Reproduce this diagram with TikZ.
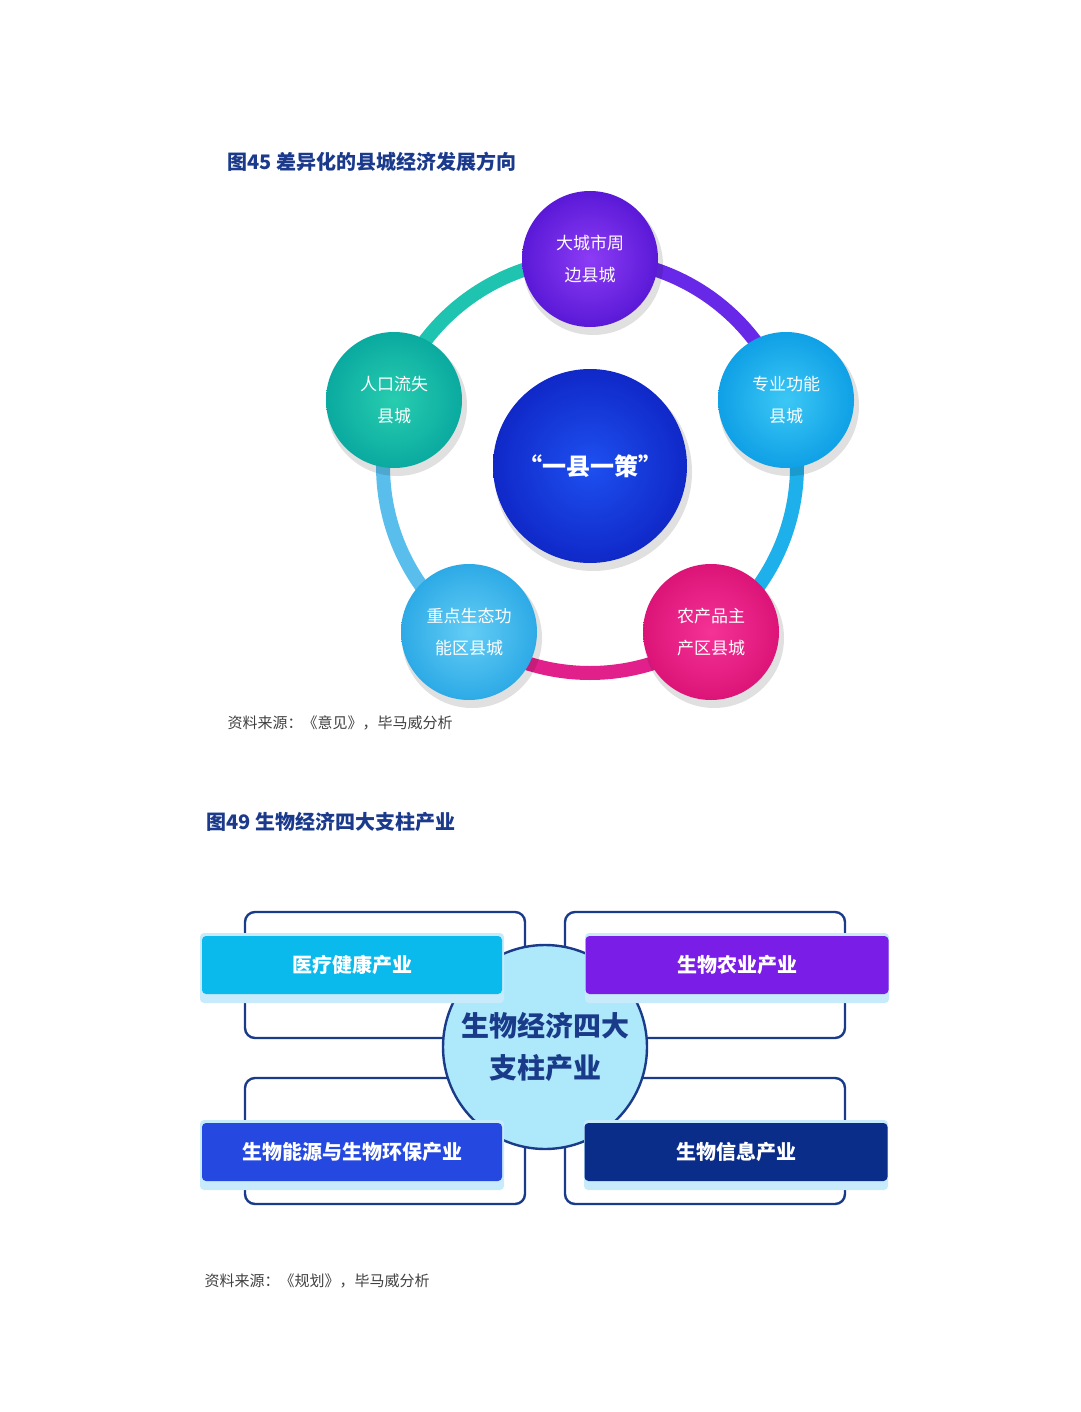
\documentclass[tikz,border=0pt]{standalone}
\usepackage{fontspec}
\setmainfont{Noto Sans CJK SC}
\usetikzlibrary{calc,shapes.geometric}
\definecolor{ttl}{HTML}{1B3A8C}
\definecolor{dk}{HTML}{1A3A8A}
\definecolor{sgA}{HTML}{1EC4B0}
\definecolor{sgB}{HTML}{6828E8}
\definecolor{sgC}{HTML}{1EB0EA}
\definecolor{sgD}{HTML}{E2208C}
\definecolor{sgE}{HTML}{5ABEEC}
\definecolor{ctrI}{HTML}{1E50F0}
\definecolor{ctrO}{HTML}{1028C8}
\definecolor{n1I}{HTML}{8C3CF5}
\definecolor{n1O}{HTML}{5A19D7}
\definecolor{n2I}{HTML}{3CC8F5}
\definecolor{n2O}{HTML}{0FA0E6}
\definecolor{n3I}{HTML}{F53296}
\definecolor{n3O}{HTML}{DC1478}
\definecolor{n4I}{HTML}{64CDF5}
\definecolor{n4O}{HTML}{2DAAE6}
\definecolor{n5I}{HTML}{28CDAF}
\definecolor{n5O}{HTML}{0AAAA0}
\definecolor{ellf}{HTML}{AEE8FB}
\definecolor{glow}{HTML}{C8EBFC}
\definecolor{bA}{HTML}{0ABAEC}
\definecolor{bB}{HTML}{7A1DE6}
\definecolor{bC}{HTML}{2448E0}
\definecolor{bD}{HTML}{0A2D8A}
\begin{document}
\begin{tikzpicture}[x=1pt,y=1pt,
  ttltxt/.style={anchor=west,text=ttl,font=\fontsize{20}{24}\selectfont\bfseries},
  srctxt/.style={anchor=west,text=black!75,font=\fontsize{15}{18}\selectfont},
  sat/.style={circle,minimum size=136pt,inner sep=0pt,text=white,align=center,font=\fontsize{17}{32}\selectfont},
  outl/.style={draw=dk,line width=2.4pt,rounded corners=10pt},
  bar/.style={rounded corners=4pt,minimum width=300pt,minimum height=58pt,text=white,font=\fontsize{20}{24}\selectfont\bfseries},
  seg/.style={line width=14pt}]
\useasboundingbox (0,0) rectangle (1080,-1412);
\node[ttltxt] (t1) at (224,-162) {图45\ 差异化的县城经济发展方向};
\coordinate (c) at (590,-466);
% ring
\draw[seg,sgA] ($(c)+(90:207)$) arc (90:161.4:207);
\draw[seg,sgB] ($(c)+(18.6:207)$) arc (18.6:90:207);
\draw[seg,sgC] ($(c)+(-54:207)$) arc (-54:18.6:207);
\draw[seg,sgD] ($(c)+(-126:207)$) arc (-126:-54:207);
\draw[seg,sgE] ($(c)+(161.4:207)$) arc (161.4:234:207);
% shadows
\foreach \p in {(590,-259),(786,-400),(711,-632),(469,-632),(394,-400)}
  \fill[black,opacity=0.12] \p ++(3,-6) circle (70);
\fill[black,opacity=0.12] (c) ++(3,-6) circle (99);
\node[circle,minimum size=194pt,inner sep=0pt,inner color=ctrI,outer color=ctrO,text=white,font=\fontsize{24}{28}\selectfont\bfseries] (ctr) at (c) {“一县一策”};
\node[sat,inner color=n1I,outer color=n1O] (n1) at (590,-259) {大城市周\\边县城};
\node[sat,inner color=n2I,outer color=n2O] (n2) at (786,-400) {专业功能\\县城};
\node[sat,inner color=n3I,outer color=n3O] (n3) at (711,-632) {农产品主\\产区县城};
\node[sat,inner color=n4I,outer color=n4O] (n4) at (469,-632) {重点生态功\\能区县城};
\node[sat,inner color=n5I,outer color=n5O] (n5) at (394,-400) {人口流失\\县城};
\node[srctxt] (s1) at (224,-723) {资料来源：《意见》，毕马威分析};
% bottom
\node[ttltxt] (t2) at (203,-822) {图49\ 生物经济四大支柱产业};
\draw[outl] (245,-912) rectangle (525,-1038);
\draw[outl] (565,-912) rectangle (845,-1038);
\draw[outl] (245,-1078) rectangle (525,-1204);
\draw[outl] (565,-1078) rectangle (845,-1204);
\node[ellipse,draw=dk,line width=2.4pt,fill=ellf,minimum width=204pt,minimum height=204pt,inner sep=0pt] (e) at (545,-1047) {};
\foreach \x/\y in {352/-968,737/-968,352/-1155,736/-1155}
  \fill[glow,rounded corners=4pt] (\x-152,\y-35) rectangle (\x+152,\y+35);
\node[bar,fill=bA] (b1) at (352,-965) {医疗健康产业};
\node[bar,fill=bB,minimum width=303pt] (b2) at (737,-965) {生物农业产业};
\node[bar,fill=bC] (b3) at (352,-1152) {生物能源与生物环保产业};
\node[bar,fill=bD,minimum width=303pt] (b4) at (736,-1152) {生物信息产业};
\node[align=center,text=dk,font=\fontsize{28}{42}\selectfont\bfseries] (et) at (545,-1047) {生物经济四大\\支柱产业};
\node[srctxt] (s2) at (201,-1281) {资料来源：《规划》，毕马威分析};
\end{tikzpicture}
\end{document}
